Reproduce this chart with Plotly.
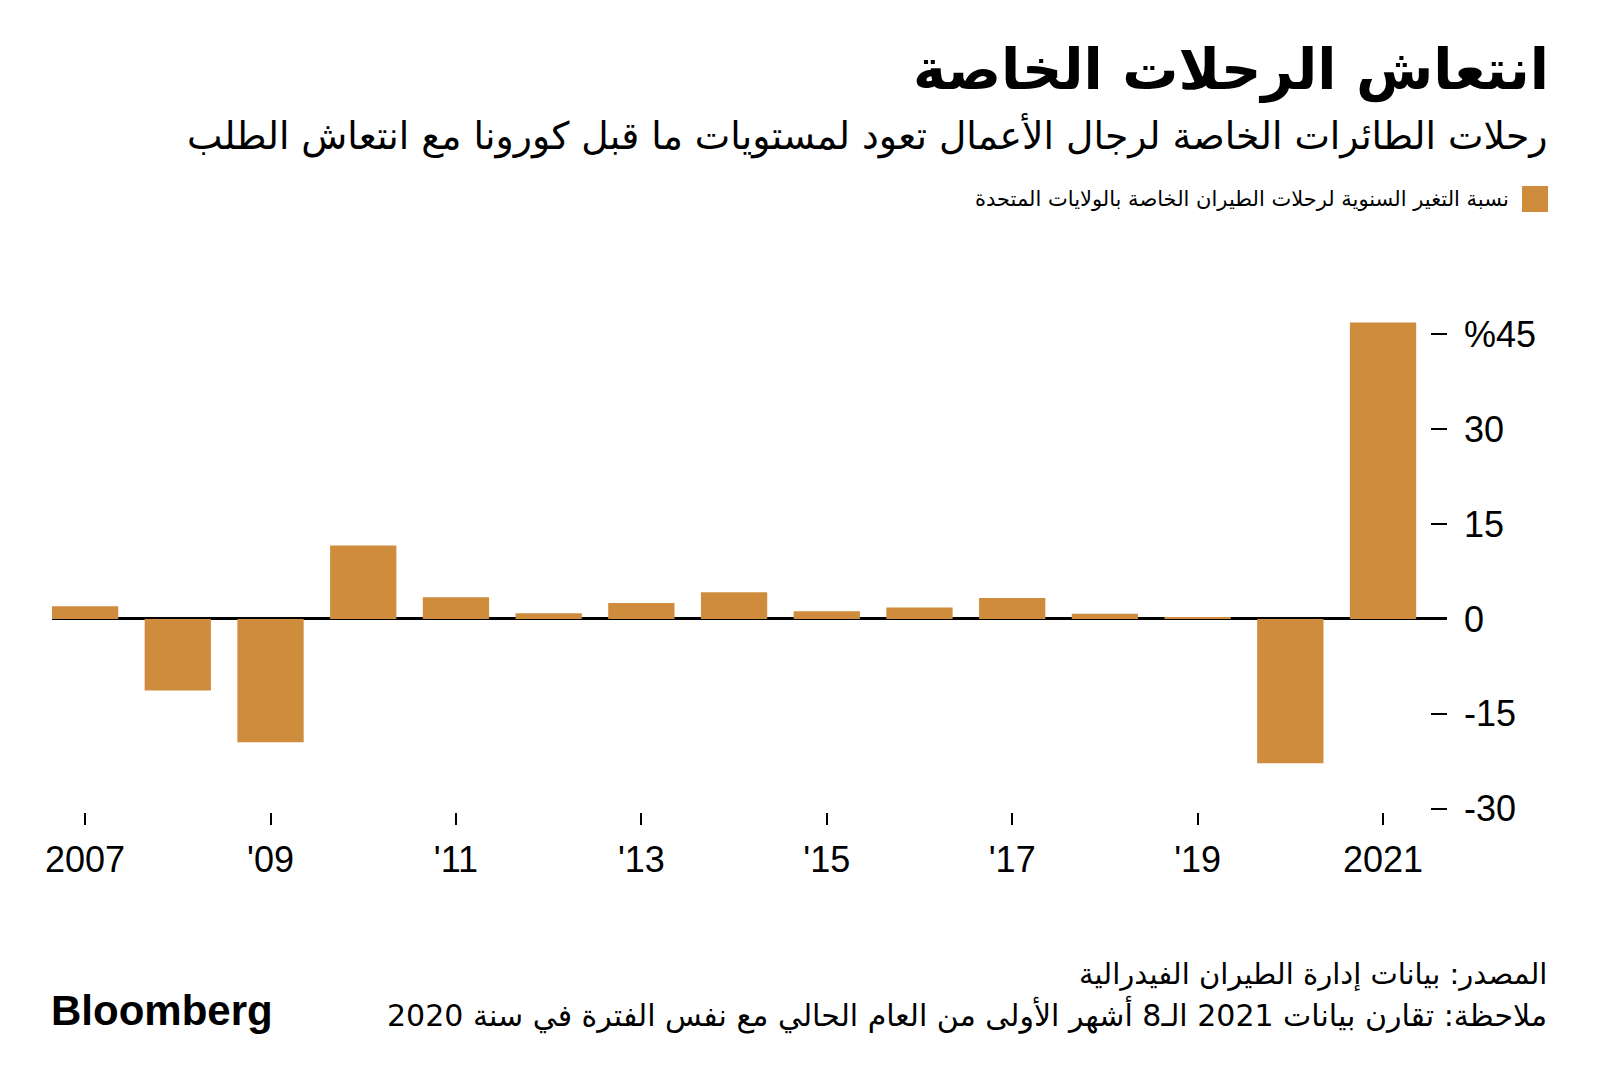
import plotly.graph_objects as go

# ---- data ----
years = list(range(2007, 2022))
change_pct = [2.0, -11.3, -19.5, 11.6, 3.4, 0.9, 2.5, 4.2, 1.2, 1.8, 3.3, 0.8, 0.3, -22.8, 46.8]
x_tick_vals = [2007, 2009, 2011, 2013, 2015, 2017, 2019, 2021]
x_tick_text = ["2007", "'09", "'11", "'13", "'15", "'17", "'19", "2021"]
y_tick_vals = [-30, -15, 0, 15, 30, 45]
y_tick_text = ["-30", "-15", "0", "15", "30", "%45"]

title = "انتعاش الرحلات الخاصة"
subtitle = "رحلات الطائرات الخاصة لرجال الأعمال تعود لمستويات ما قبل كورونا مع انتعاش الطلب"
legend_label = "نسبة التغير السنوية لرحلات الطيران الخاصة بالولايات المتحدة"
source = "المصدر: بيانات إدارة الطيران الفيدرالية"
note = "ملاحظة: تقارن بيانات 2021 الـ8 أشهر الأولى من العام الحالي مع نفس الفترة في سنة 2020"

BAR = "#CF8C3D"
W, H = 1600, 1089
L, R, T, B = 44, 161, 307, 285
PW, PH = W - L - R, H - T - B

def px(x):
    return (x - L) / PW

def py(y):
    return (H - B - y) / PH

AR = "DejaVu Sans, Noto Sans, sans-serif"
LAT = "Liberation Sans, Arial, sans-serif"

fig = go.Figure()
fig.add_trace(go.Bar(x=years, y=change_pct, marker=dict(color=BAR, line=dict(width=0)),
                     name=legend_label, showlegend=False, hoverinfo="x+y"))

fig.update_layout(
    width=W, height=H,
    margin=dict(l=L, r=R, t=T, b=B),
    paper_bgcolor="white", plot_bgcolor="white",
    bargap=0.285,
    font=dict(family=LAT, color="black"),
    xaxis=dict(range=[2006.643, 2021.69], tickvals=x_tick_vals, ticktext=x_tick_text,
               ticks="outside", ticklen=12, tickwidth=1.5, tickcolor="black",
               showgrid=False, zeroline=False, showline=False,
               tickfont=dict(family=LAT, size=36, color="black"), ticklabelstandoff=4),
    yaxis=dict(range=[-30.5, 48], side="right", tickvals=y_tick_vals, ticktext=y_tick_text,
               ticks="inside", ticklen=16, tickwidth=2, tickcolor="black",
               showgrid=False, showline=False, zeroline=True, zerolinecolor="black",
               zerolinewidth=2.5, tickfont=dict(family=LAT, size=36, color="black"),
               ticklabelstandoff=16),
)

ann = []
ann.append(dict(text="<b>" + title + "</b>", x=px(1543), y=py(62), xanchor="right", yanchor="middle",
                font=dict(family=AR, size=56, color="black")))
ann.append(dict(text=subtitle, x=px(1541), y=py(128), xanchor="right", yanchor="middle",
                font=dict(family=AR, size=37.7, color="black")))
ann.append(dict(text=legend_label, x=px(1503), y=py(191), xanchor="right", yanchor="middle",
                font=dict(family=AR, size=21, color="black")))
ann.append(dict(text=source, x=px(1541), y=py(966), xanchor="right", yanchor="middle",
                font=dict(family=AR, size=29, color="black")))
ann.append(dict(text=note, x=px(1541), y=py(1006), xanchor="right", yanchor="middle",
                font=dict(family=AR, size=30, color="black")))
ann.append(dict(text="<b>Bloomberg</b>", x=px(41), y=py(1002), xanchor="left", yanchor="middle",
                font=dict(family=LAT, size=42, color="black")))
for a in ann:
    a.update(xref="paper", yref="paper", showarrow=False)
fig.update_layout(annotations=ann)

fig.add_shape(type="rect", xref="paper", yref="paper",
              x0=px(1514), x1=px(1540), y0=py(204), y1=py(178),
              fillcolor=BAR, line=dict(width=0))

fig.write_html("out.html")
